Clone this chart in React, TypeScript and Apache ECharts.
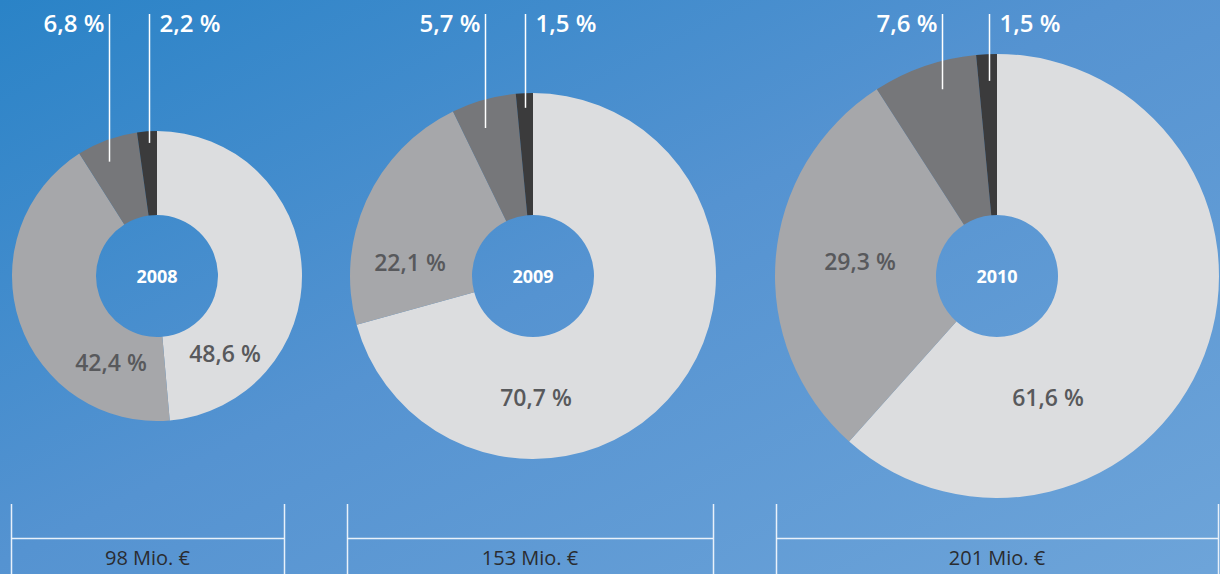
import React, { useEffect, useRef } from "react";
import * as echarts from "echarts";

// ---- data ----
const years = ["2008", "2009", "2010"];
const totals = ["98 Mio. €", "153 Mio. €", "201 Mio. €"];
const segmentNames = ["Segment 1", "Segment 2", "Segment 3", "Segment 4"];
const shares2008 = [48.6, 42.4, 6.8, 2.2];
const shares2009 = [70.7, 22.1, 5.7, 1.5];
const shares2010 = [61.6, 29.3, 7.6, 1.5];
const sharesByYear = [shares2008, shares2009, shares2010];

// ---- styles / layout ----
const sliceColors = ["#dcdddf", "#a6a7aa", "#76777a", "#3b3b3c"];
const FONT = "'Open Sans', 'DejaVu Sans', sans-serif";
// lineXR: radius fraction used for the leader line's x; lineEndR: radius fraction where it ends
const layouts = [
  { center: [157, 276], radius: [61, 145], inLabels: [[225, 353], [111, 362]], lineXR: [0.96, 0.8], lineEndR: [0.84, 0.92], bracket: [11, 284] },
  { center: [533, 276], radius: [61, 183], inLabels: [[536, 397], [410, 262]], lineXR: [0.97, 0.93], lineEndR: [0.84, 0.92], bracket: [347, 713] },
  { center: [997, 276], radius: [61, 222], inLabels: [[1048, 397], [860, 261]], lineXR: [0.76, 0.77], lineEndR: [0.89, 0.88], bracket: [776, 1218] },
];
const LINE_TOP = 14;
const LABEL_Y = 22;
const BR_TOP = 504;
const BR_MID = 538;
const BR_BOTTOM = 574;
const BR_TEXT_Y = 557;

const fmt = (v: number) => v.toFixed(1).replace(".", ",") + " %";

function midAngle(values: number[], idx: number) {
  const sum = values.reduce((a, b) => a + b, 0);
  let before = 0;
  for (let i = 0; i < idx; i++) before += values[i];
  return ((before + values[idx] / 2) / sum) * Math.PI * 2;
}

export default function App() {
  const ref = useRef<HTMLDivElement>(null);
  useEffect(() => {
    document.body.style.margin = "0";
    if (!ref.current) return;
    const chart = echarts.init(ref.current, undefined, { renderer: "svg" });

    const labelPos: any[] = [];
    const graphics: any[] = [];

    sharesByYear.forEach((vals, s) => {
      const lay = layouts[s];
      const pos: any = {};
      const R = lay.radius[1];
      [2, 3].forEach((idx, k) => {
        const a = midAngle(vals, idx);
        const lx = Math.round(lay.center[0] + R * lay.lineXR[k] * Math.sin(a)) + 0.5;
        const ly = lay.center[1] - R * lay.lineEndR[k] * Math.cos(a);
        graphics.push({
          type: "line",
          z: 100,
          shape: { x1: lx, y1: LINE_TOP, x2: lx, y2: ly },
          style: { stroke: "#ffffff", lineWidth: 1.5 },
        });
        pos[idx] = idx === 2
          ? { x: lx - 5, y: LABEL_Y, align: "right", verticalAlign: "middle" }
          : { x: lx + 10, y: LABEL_Y, align: "left", verticalAlign: "middle" };
      });
      pos[0] = { x: lay.inLabels[0][0], y: lay.inLabels[0][1], align: "center", verticalAlign: "middle" };
      pos[1] = { x: lay.inLabels[1][0], y: lay.inLabels[1][1], align: "center", verticalAlign: "middle" };
      labelPos.push(pos);

      // center year
      graphics.push({
        type: "text",
        z: 100,
        x: lay.center[0],
        y: lay.center[1],
        style: {
          text: years[s],
          fill: "#ffffff",
          font: `700 18px ${FONT}`,
          align: "center",
          verticalAlign: "middle",
        },
      });
      // bracket
      const [bx1, bx2] = lay.bracket;
      const brStyle = { stroke: "rgba(240,246,252,0.95)", lineWidth: 1.5 };
      graphics.push({ type: "line", z: 100, shape: { x1: bx1 + 0.5, y1: BR_TOP, x2: bx1 + 0.5, y2: BR_BOTTOM }, style: brStyle });
      graphics.push({ type: "line", z: 100, shape: { x1: bx2 + 0.5, y1: BR_TOP, x2: bx2 + 0.5, y2: BR_BOTTOM }, style: brStyle });
      graphics.push({ type: "line", z: 100, shape: { x1: bx1, y1: BR_MID + 0.5, x2: bx2, y2: BR_MID + 0.5 }, style: brStyle });
      graphics.push({
        type: "text",
        z: 100,
        x: (bx1 + bx2) / 2,
        y: BR_TEXT_Y,
        style: {
          text: totals[s],
          fill: "#2a2c30",
          font: `400 20px ${FONT}`,
          align: "center",
          verticalAlign: "middle",
        },
      });
    });

    const series = sharesByYear.map((vals, s) => {
      const lay = layouts[s];
      return {
        type: "pie",
        center: lay.center,
        radius: lay.radius,
        startAngle: 90,
        clockwise: true,
        avoidLabelOverlap: false,
        labelLine: { show: false },
        itemStyle: { borderWidth: 0 },
        emphasis: { disabled: true },
        label: {
          show: true,
          position: "inside",
          formatter: (p: any) => fmt(p.value),
        },
        labelLayout: (p: any) => labelPos[s][p.dataIndex],
        data: vals.map((v, i) => ({
          name: segmentNames[i],
          value: v,
          itemStyle: { color: sliceColors[i] },
          label:
            i < 2
              ? { color: "#58595c", fontSize: 23, fontWeight: 600, fontFamily: FONT }
              : { color: "#ffffff", fontSize: 24, fontWeight: 600, fontFamily: FONT },
        })),
      };
    });

    chart.setOption({
      animation: false,
      backgroundColor: new echarts.graphic.LinearGradient(
        0, 0, 500, 1000,
        [
          { offset: 0, color: "#2a83c7" },
          { offset: 0.45, color: "#5593d1" },
          { offset: 1, color: "#70a6da" },
        ],
        true
      ),
      series,
      graphic: graphics,
    });
    return () => chart.dispose();
  }, []);
  return <div ref={ref} style={{ width: 1220, height: 574 }} />;
}
